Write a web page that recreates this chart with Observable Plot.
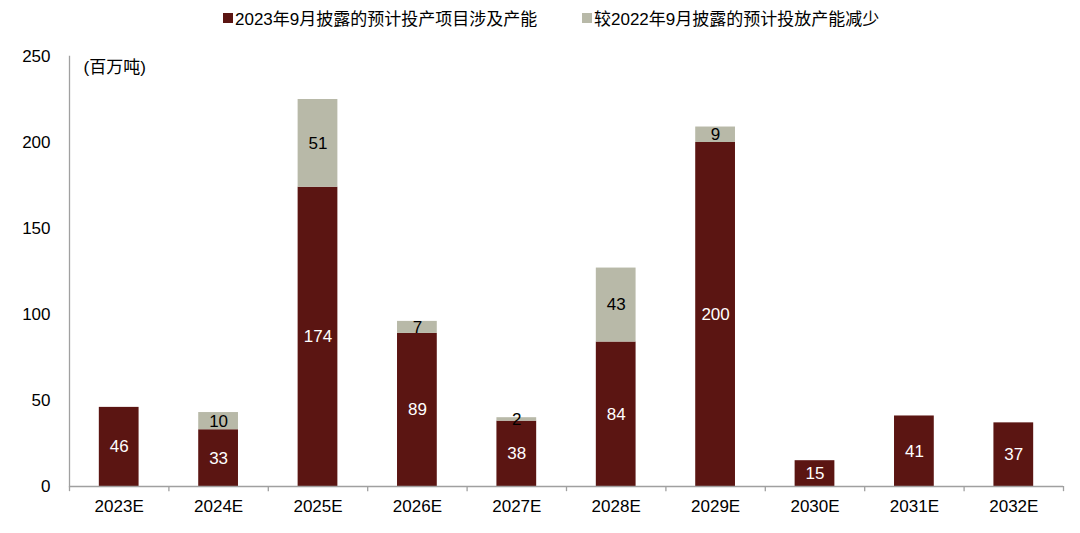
<!DOCTYPE html>
<html>
<head>
<meta charset="utf-8">
<script src="https://cdn.jsdelivr.net/npm/d3@7"></script>
<script src="https://cdn.jsdelivr.net/npm/@observablehq/plot@0.6"></script>
<style>
  body { margin: 0; background: #fff; font-family: "Liberation Sans", Arial, "Noto Sans CJK SC", sans-serif; }
  #legend { position: relative; height: 34px; width: 1080px; font-size: 17px; color: #000; }
  .item { position: absolute; top: 5px; display: flex; align-items: center; white-space: nowrap; }
  .sw { width: 10px; height: 10px; margin-right: 2px; }
</style>
</head>
<body>
<div id="legend"></div>
<div id="chart"></div>
<script>
const categories = ["2023E","2024E","2025E","2026E","2027E","2028E","2029E","2030E","2031E","2032E"];
const disclosed2023 = [46,33,174,89,38,84,200,15,41,37];
const reduction2022 = [0,10,51,7,2,43,9,0,0,0];
const seriesNames = ["2023年9月披露的预计投产项目涉及产能","较2022年9月披露的预计投放产能减少"];
const seriesColors = ["#5b1512","#b8b9a8"];
const yTicks = [0,50,100,150,200,250];
const unitLabel = "(百万吨)";

// legend
const legend = document.getElementById("legend");
const legendX = [223, 582];
seriesNames.forEach((name, i) => {
  const it = document.createElement("div");
  it.className = "item";
  it.style.left = legendX[i] + "px";
  it.innerHTML = `<span class="sw" style="background:${seriesColors[i]}"></span><span>${name}</span>`;
  legend.appendChild(it);
});

const rows = [];
categories.forEach((c, i) => {
  rows.push({cat: c, series: seriesNames[0], value: disclosed2023[i], y1: 0, y2: disclosed2023[i]});
  rows.push({cat: c, series: seriesNames[1], value: reduction2022[i], y1: disclosed2023[i], y2: disclosed2023[i] + reduction2022[i]});
});
const labels = rows.filter(d => d.value > 0).map(d => ({...d, mid: (d.y1 + d.y2) / 2}));

// boundary ticks: left edge of every band, plus right edge of the last band
const bounds = categories.map(c => ({cat: c, side: -1})).concat([{cat: categories[categories.length - 1], side: 1}]);

const chart = Plot.plot({
  width: 1080,
  height: 499,
  marginLeft: 69,
  marginRight: 17,
  marginTop: 22,
  marginBottom: 47,
  style: {fontFamily: '"Liberation Sans", Arial, "Noto Sans CJK SC", sans-serif', fontSize: "17px", color: "#000", background: "#fff"},
  x: {domain: categories, paddingInner: 0.6, paddingOuter: 0.3, round: false, label: null},
  y: {domain: [0, 250], label: null},
  color: {domain: seriesNames, range: seriesColors},
  marks: [
    Plot.rectY(rows, {x: "cat", y1: "y1", y2: "y2", fill: "series"}),
    Plot.frame({anchor: "left", stroke: "#a0a0a0", strokeWidth: 1.3}),
    Plot.ruleY([0], {stroke: "#a0a0a0", strokeWidth: 1.3}),
    Plot.ruleX(bounds, {x: "cat", y1: 0, y2: -3, stroke: "#a0a0a0", strokeWidth: 1.3}),
    Plot.axisY({ticks: yTicks, tickSize: 0, tickPadding: 19, fontSize: 17, label: null}),
    Plot.axisX({tickSize: 0, tickPadding: 13, fontSize: 17, label: null}),
    Plot.text(labels, {x: "cat", y: "mid", text: d => String(d.value), fill: d => d.series === seriesNames[0] ? "#fff" : "#000", fontSize: 17}),
    Plot.text([unitLabel], {frameAnchor: "top-left", dx: 14, dy: 11, textAnchor: "start", lineAnchor: "middle", fontSize: 17})
  ]
});
// shift boundary ticks from band centers to band edges using the x scale's step
try {
  const step = chart.scale("x").step;
  const groups = Array.from(chart.querySelectorAll("g")).filter(g => g.querySelectorAll(":scope > line").length === bounds.length);
  const bGroup = groups[groups.length - 1];
  if (bGroup) {
    bGroup.querySelectorAll(":scope > line").forEach((ln, i) => {
      const off = bounds[i].side * step / 2;
      ln.setAttribute("x1", +ln.getAttribute("x1") + off);
      ln.setAttribute("x2", +ln.getAttribute("x2") + off);
    });
  }
} catch (e) { console.error(e); }
document.getElementById("chart").appendChild(chart);
</script>
</body>
</html>
